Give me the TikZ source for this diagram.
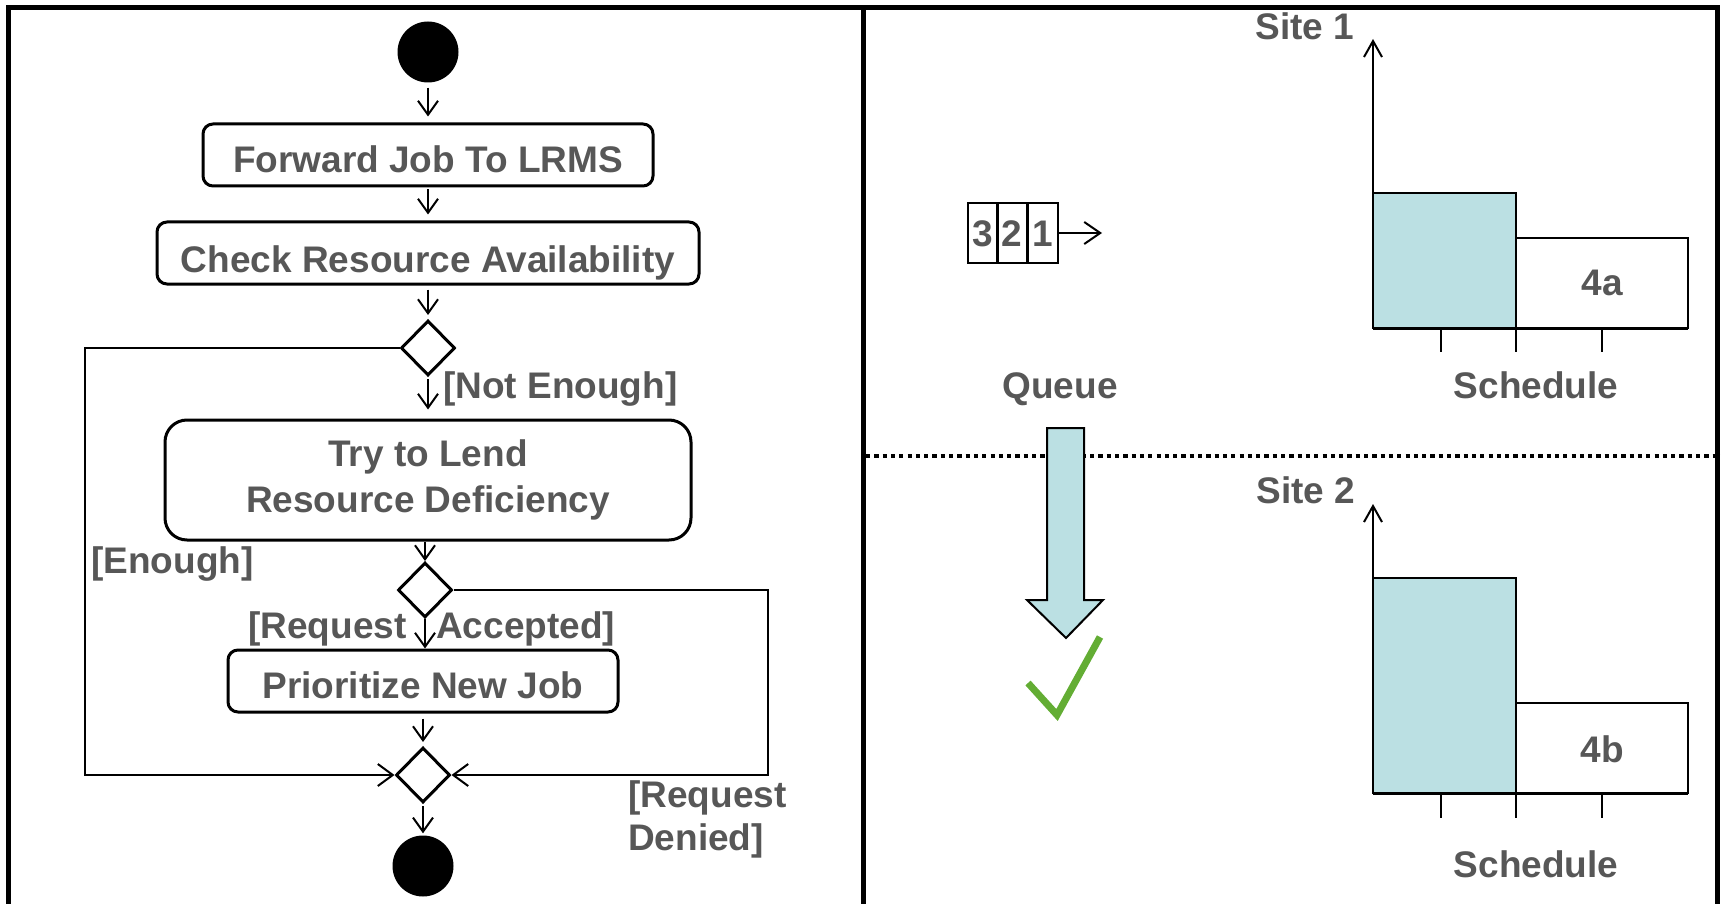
\documentclass[tikz,border=0pt]{standalone}
\usepackage{fontspec}
\setmainfont{Liberation Sans}
\usetikzlibrary{arrows.meta,shapes.geometric}
\definecolor{txt}{HTML}{575757}
\definecolor{qfill}{HTML}{BBE0E3}
\definecolor{chk}{HTML}{63AD34}
\begin{document}
\begin{tikzpicture}[x=1pt,y=-1pt,
  every node/.style={font=\fontsize{37}{46}\selectfont\bfseries, text=txt},
  act/.style={draw=black, line width=3pt, rounded corners=10pt, inner sep=0pt, text depth=0pt},
  dec/.style={diamond, draw=black, line width=3pt, inner sep=0pt, minimum width=54pt, minimum height=55pt, fill=white},
  term/.style={circle, fill=black, inner sep=0pt, minimum size=61pt},
  flow/.style={line width=2pt, -{Straight Barb[length=14pt,width=20pt,line width=2pt]}},
  loop/.style={line width=2.5pt},
  lab/.style={anchor=base west, inner sep=0pt},
  ctr/.style={anchor=base, inner sep=0pt},
  cell/.style={draw=black, line width=2pt, minimum width=30pt, minimum height=60pt, inner sep=0pt, text height=26pt, text depth=0pt},
  bar/.style={draw=black, line width=2.5pt},
  tick/.style={line width=2pt},
  frame/.style={line width=5pt},
]
\useasboundingbox (0,0) rectangle (1721,904);

% frame
\draw[frame] (8,920) -- (8,8) -- (1717,8) -- (1717,920);
\draw[frame] (863,8) -- (863,920);

% ---------- left: activity diagram ----------
\node[term] (start) at (428,52) {};
\node[act, minimum width=450pt, minimum height=62pt, text height=36pt] (fwd) at (428,155) {Forward Job To LRMS};
\node[act, minimum width=542pt, minimum height=62pt, text height=38pt] (chkr) at (428,253) {Check Resource Availability};
\node[dec] (d1) at (428,348) {};
\node[act, rounded corners=22pt, minimum width=526pt, minimum height=120pt, align=center, text depth=, text height=] (try) at (428,480) {Try to Lend\\Resource Deficiency};
\node[dec] (d2) at (425,590) {};
\node[act, minimum width=390pt, minimum height=62pt, text height=34pt] (prio) at (423,681) {Prioritize New Job};
\node[dec] (d3) at (423,775) {};
\node[term] (stop) at (423,866) {};

\draw[flow, shorten <=5pt, shorten >=6pt] (start.south) -- (fwd.north);
\draw[flow, shorten <=2pt, shorten >=6pt] (fwd.south) -- (chkr.north);
\draw[flow, shorten <=4pt, shorten >=4pt] (chkr.south) -- (d1.north);
\draw[flow, shorten <=2pt, shorten >=9pt] (d1.south) -- (d1.south |- try.north);
\draw[flow] (try.south -| d2.north) -- (d2.north);
\draw[flow] (d2.south) -- (d2.south |- prio.north);
\draw[flow, shorten <=5pt, shorten >=4pt] (prio.south -| d3.north) -- (d3.north);
\draw[flow, shorten <=2pt, shorten >=2pt] (d3.south) -- (stop.north);

\coordinate (lx) at (85,348);
\coordinate (rx) at (768,590);
\draw[loop, -{Straight Barb[length=15pt,width=22pt,line width=2pt]}] (d1.west) -- (lx) |- (d3.west);
\draw[loop, -{Straight Barb[length=15pt,width=22pt,line width=2pt]}] (d2.east) -- (rx) |- (d3.east);

\node[lab] (lne) at (443,398) {[Not Enough]};
\node[lab] (len) at (91,573) {[Enough]};
\node[lab] (lra1) at (248,638) {[Request};
\node[lab] (lra2) at (436,638) {Accepted]};
\node[lab] (lrd1) at (628,807) {[Request};
\node[lab] (lrd2) at (628,850) {Denied]};

% ---------- right: queue and schedules ----------
\draw[line width=4pt, dash pattern=on 4.2pt off 4.1pt] (866,456) -- (1721,456);

\node[cell] (c3) at (983,233) {3};
\node[cell] (c2) at (1012,233) {2};
\node[cell] (c1) at (1042.5,233) {1};
\coordinate (qend) at (1102,233);
\draw[flow, -{Straight Barb[length=16pt,width=22pt,line width=2pt]}] (c1.east) -- (qend);
\node[ctr] (queue) at (1060,398) {Queue};

\draw[draw=black, line width=2pt, fill=qfill] (1047,428) -- (1084,428) -- (1084,600) -- (1103,600) -- (1066,638) -- (1027,600) -- (1047,600) -- cycle;
\draw[chk, line width=7pt] (1028,683) -- (1057,715) -- (1100,637);

% site 1
\node[ctr] (s1) at (1305,40) {Site 1};
\draw[bar, fill=qfill] (1373,193) rectangle (1516,328);
\draw[bar] (1516,238) rectangle (1688,328);
\node[ctr] (a4) at (1602,295) {4a};
\draw[line width=2.5pt, -{Straight Barb[length=16pt,width=18pt,line width=2pt]}] (1373,329) -- (1373,39);
\draw[line width=3pt] (1373,328) -- (1688,328);
\draw[tick] (1441,328) -- (1441,352) (1516,328) -- (1516,352) (1602,328) -- (1602,352);
\node[ctr] (sch1) at (1536,398) {Schedule};

% site 2
\node[ctr] (s2) at (1306,503) {Site 2};
\draw[bar, fill=qfill] (1373,578) rectangle (1516,793);
\draw[bar] (1516,703) rectangle (1688,793);
\node[ctr] (b4) at (1602,762) {4b};
\draw[line width=2.5pt, -{Straight Barb[length=16pt,width=18pt,line width=2pt]}] (1373,794) -- (1373,504);
\draw[line width=3pt] (1373,793) -- (1688,793);
\draw[tick] (1441,793) -- (1441,818) (1516,793) -- (1516,818) (1602,793) -- (1602,818);
\node[ctr] (sch2) at (1536,877) {Schedule};
\end{tikzpicture}
\end{document}
